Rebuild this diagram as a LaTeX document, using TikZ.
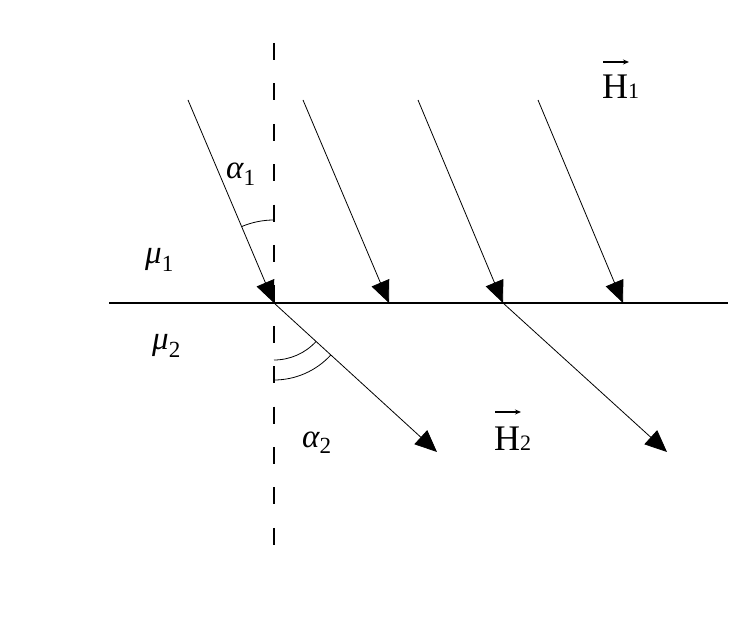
\documentclass[tikz,border=0pt]{standalone}
\usepackage{fontspec}
\usepackage{amsmath}
\setmainfont{Liberation Serif}
\usetikzlibrary{positioning,arrows.meta}

\begin{document}
\begin{tikzpicture}[x=1pt,y=-1pt,
            ray/.style={line width=0.8pt,
            -{Triangle[length=22pt,width=19pt]}},
            vecarrow/.style={line width=1.1pt,
            -{Stealth[length=6pt,width=5pt]}},
            lbl/.style={anchor=base west,
            inner sep=0pt,
            font=\fontsize{33}{38}\selectfont}]
            \useasboundingbox (0,0) rectangle (755,639);
            % boundary and normal
            \coordinate (o) at (274,303);
            \coordinate (left) at (109,303);
            \coordinate (right) at (728,303);
            \coordinate (top) at (274,43);
            \coordinate (bottom) at (274,548);
            \draw[line width=1.2pt] (left) -- (right);
            \draw[line width=1.2pt, dash pattern=on 17pt off 23.4pt] (top) -- (bottom);
            % incident field lines
            \coordinate (s1) at (188,100);
            \coordinate (s2) at (303,100);
            \coordinate (s3) at (418,100);
            \coordinate (s4) at (538,100);
            \coordinate (p2) at (389,303);
            \coordinate (p3) at (503,303);
            \coordinate (p4) at (623,303);
            \coordinate (e1) at (437,452);
            \coordinate (e2) at (667,452);
            \path[ray]
            (s1) edge (o)
            (s2) edge (p2)
            (s3) edge (p3)
            (s4) edge (p4)
            (o) edge (e1)
            (p3) edge (e2)
            ;
            % angles
            \draw[line width=0.8pt] ([shift={(-90:83)}]o) arc[start angle=-90, end angle=-113, radius=83];
            \draw[line width=0.8pt] ([shift={(90:57)}]o) arc[start angle=90, end angle=42.4, radius=57];
            \draw[line width=0.8pt] ([shift={(90:77)}]o) arc[start angle=90, end angle=42.4, radius=77];
            % labels
            \node[lbl] (alpha1) at (226,179) {$\textit{α}_{\text{1}}$};
            \node[lbl] (alpha2) at (302,447) {$\textit{α}_{\text{2}}$};
            \node[lbl] (mu1) at (145,263) {$\textit{μ}_{\text{1}}$};
            \node[lbl] (mu2) at (152,349) {$\textit{μ}_{\text{2}}$};
            \node[lbl, font=\fontsize{36}{40}\selectfont] (H1) at (602,99)
            {H\fontsize{22}{24}\selectfont 1};
            \node[lbl, font=\fontsize{36}{40}\selectfont] (H2) at (494,450)
            {H\fontsize{22}{24}\selectfont 2};
            \coordinate (h1a) at (603,62);
            \coordinate (h1b) at (629,62);
            \coordinate (h2a) at (495,412);
            \coordinate (h2b) at (521,412);
            \draw[vecarrow] (h1a) -- (h1b);
            \draw[vecarrow] (h2a) -- (h2b);
        \end{tikzpicture}
\end{document}
